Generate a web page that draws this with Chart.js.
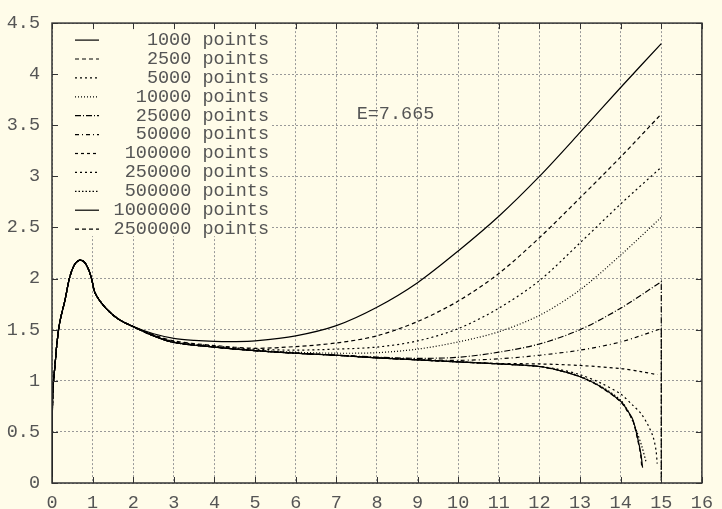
<!DOCTYPE html>
<html>
<head>
<meta charset="utf-8">
<script src="https://cdn.jsdelivr.net/npm/chart.js"></script>
<style>
  html, body { margin: 0; padding: 0; background: #fffce9; }
  canvas { display: block; }
</style>
</head>
<body>
<canvas id="myChart" width="722" height="509"></canvas>

<script>
    // number of points behind each curve (legend order)
    let npoints = [1000, 2500, 5000, 10000, 25000, 50000, 100000, 250000, 500000, 1000000, 2500000];

    // every run shares the same start, up to x = 2
    let head = [
        [0, 0], [0.005, 0.5], [0.02, 0.9], [0.05, 1.05], [0.08, 1.18], [0.12, 1.36],
        [0.19, 1.57], [0.32, 1.79], [0.44, 2.02], [0.56, 2.14], [0.68, 2.18], [0.8, 2.16],
        [0.91, 2.08], [0.98, 1.99], [1.04, 1.88], [1.1, 1.83], [1.2, 1.77], [1.4, 1.68],
        [1.65, 1.60], [2, 1.53]
    ];

    // the slowly falling middle part the large runs follow
    let base = [
        [2.5, 1.44], [3, 1.375], [4, 1.33], [5, 1.295], [6, 1.27], [7, 1.25],
        [8, 1.225], [9, 1.205], [10, 1.185], [11, 1.165], [12, 1.14]
    ];

    let t1000 = [[2.5, 1.46], [3, 1.415], [3.5, 1.395], [4, 1.385], [4.5, 1.383], [5, 1.39], [6, 1.44],
        [7, 1.54], [8, 1.72], [9, 1.96], [10, 2.27], [11, 2.61], [12, 3.0], [13, 3.43], [14, 3.87], [15, 4.30]];
    let t2500 = [[2.5, 1.45], [3, 1.39], [4, 1.345], [5, 1.318], [6, 1.335], [7, 1.37], [8, 1.44],
        [9, 1.58], [10, 1.78], [11, 2.05], [12, 2.40], [13, 2.79], [14, 3.19], [15, 3.61]];
    let t5000 = [[2.5, 1.445], [3, 1.385], [4, 1.34], [5, 1.31], [6, 1.30], [7, 1.31], [8, 1.33],
        [9, 1.39], [10, 1.51], [11, 1.71], [12, 1.98], [13, 2.35], [14, 2.73], [15, 3.09]];
    let t10000 = [[2.5, 1.44], [3, 1.38], [4, 1.335], [5, 1.30], [6, 1.28], [7, 1.27], [8, 1.275],
        [9, 1.31], [10, 1.38], [11, 1.48], [12, 1.64], [13, 1.89], [14, 2.23], [15, 2.60]];
    // these two fall straight to zero at x = 15 (corner point repeated)
    let t25000 = [[2.5, 1.44], [3, 1.375], [4, 1.33], [5, 1.295], [6, 1.27], [7, 1.25], [8, 1.232],
        [9, 1.22], [10, 1.23], [11, 1.28], [12, 1.36], [13, 1.50], [14, 1.71], [15, 1.97], [15, 1.97], [15, 0]];
    let t50000 = [[2.5, 1.44], [3, 1.375], [4, 1.33], [5, 1.295], [6, 1.27], [7, 1.25], [8, 1.225],
        [9, 1.21], [10, 1.20], [11, 1.215], [12, 1.25], [13, 1.30], [14, 1.38], [15, 1.51], [15, 1.51], [15, 0]];
    let t100000 = base.slice(0, 9).concat([[11, 1.17], [12, 1.165], [13, 1.15], [14, 1.12], [14.5, 1.09], [14.9, 1.06]]);
    let t250000 = base.concat([[12.5, 1.11], [13, 1.06], [13.5, 0.98], [14, 0.87], [14.3, 0.76], [14.5, 0.68],
        [14.67, 0.57], [14.8, 0.45], [14.87, 0.32], [14.9, 0.19]]);
    let t500000 = base.concat([[12.5, 1.10], [13, 1.045], [13.5, 0.95], [14, 0.81], [14.2, 0.69], [14.39, 0.51],
        [14.52, 0.36], [14.63, 0.2]]);
    let t1000000 = base.concat([[12.5, 1.10], [13, 1.04], [13.5, 0.945], [14, 0.80], [14.15, 0.72], [14.3, 0.62],
        [14.43, 0.42], [14.5, 0.28], [14.54, 0.15]]);
    let t2500000 = base.concat([[12.5, 1.10], [13, 1.04], [13.5, 0.94], [14, 0.795], [14.15, 0.71], [14.3, 0.61],
        [14.42, 0.42], [14.49, 0.28], [14.52, 0.15]]);

    let tails = [t1000, t2500, t5000, t10000, t25000, t50000, t100000, t250000, t500000, t1000000, t2500000];

    let note = 'E=7.665';
    let noteAt = [7.5, 3.61];

    // gnuplot-like line types, one per curve
    const dashes = [[], [4, 3], [2, 3], [1, 2], [6, 2, 1, 2], [4, 3, 1, 3], [3, 3], [2, 3], [1.5, 2], [], [4, 3]];

    const bg = '#fffce9';
    const ink = '#555';
    const font = { family: '"Liberation Mono", monospace', size: 18.5 };
    const fontCss = '18.5px "Liberation Mono", monospace';

    let datasets = npoints.map((n, i) => ({
        label: String(n).padStart(7, ' ') + ' points',
        data: head.concat(tails[i]).map(p => ({ x: p[0], y: p[1] })),
        borderColor: '#000',
        borderWidth: 1.2,
        borderDash: dashes[i],
        pointRadius: 0,
        fill: false,
        tension: 0.3
    }));

    // paper colour, key box, note, frame and inward tick marks
    const gnuplotLook = {
        id: 'gnuplotLook',
        beforeDraw(chart) {
            const c = chart.ctx;
            c.save();
            c.fillStyle = bg;
            c.fillRect(0, 0, chart.width, chart.height);
            c.restore();
        },
        beforeDatasetsDraw(chart) {
            const { ctx: c, chartArea: a } = chart;
            c.save();
            c.fillStyle = bg;
            c.fillRect(a.left + 1, a.top + 1, 218, 212);
            c.font = fontCss;
            c.textAlign = 'right';
            c.textBaseline = 'middle';
            chart.data.datasets.forEach((ds, i) => {
                const y = a.top + 17 + i * 18.9;
                c.strokeStyle = '#000';
                c.lineWidth = 1.2;
                c.setLineDash(ds.borderDash);
                c.beginPath();
                c.moveTo(a.left + 23, y);
                c.lineTo(a.left + 47, y);
                c.stroke();
                c.setLineDash([]);
                c.fillStyle = ink;
                c.fillText(ds.label, a.left + 217, y);
            });
            const xs = chart.scales.x, ys = chart.scales.y;
            c.textAlign = 'left';
            c.fillText(note, xs.getPixelForValue(noteAt[0]), ys.getPixelForValue(noteAt[1]));
            c.restore();
        },
        afterDatasetsDraw(chart) {
            const { ctx: c, chartArea: a } = chart;
            const xs = chart.scales.x, ys = chart.scales.y;
            c.save();
            c.strokeStyle = '#333';
            c.lineWidth = 1;
            c.beginPath();
            xs.ticks.forEach(t => {
                const px = Math.round(xs.getPixelForValue(t.value)) + 0.5;
                c.moveTo(px, a.bottom); c.lineTo(px, a.bottom - 6);
                c.moveTo(px, a.top); c.lineTo(px, a.top + 6);
            });
            ys.ticks.forEach(t => {
                const py = Math.round(ys.getPixelForValue(t.value)) + 0.5;
                c.moveTo(a.left, py); c.lineTo(a.left + 6, py);
                c.moveTo(a.right, py); c.lineTo(a.right - 6, py);
            });
            c.stroke();
            c.lineWidth = 1.5;
            c.strokeRect(a.left, a.top, a.right - a.left, a.bottom - a.top);
            c.restore();
        }
    };

    var ctx = document.getElementById('myChart').getContext('2d');

    var myChart = new Chart(ctx, {
        type: 'line',
        data: { datasets: datasets },
        plugins: [gnuplotLook],
        options: {
            responsive: false,
            animation: false,
            layout: { padding: { top: 15, right: 12, left: 0, bottom: 0 } },
            plugins: { legend: { display: false }, tooltip: { enabled: false } },
            scales: {
                x: {
                    type: 'linear',
                    min: 0,
                    max: 16,
                    ticks: { stepSize: 1, autoSkip: false, maxRotation: 0, color: ink, font: font, padding: 9,
                        callback: v => String(v) },
                    grid: { color: '#999', drawTicks: false },
                    border: { display: false, dash: [2, 2] },
                    afterFit: s => { s.height = 26; }
                },
                y: {
                    min: 0,
                    max: 4.5,
                    ticks: { stepSize: 0.5, color: ink, font: font, padding: 12,
                        callback: v => String(v) },
                    grid: { color: '#999', drawTicks: false },
                    border: { display: false, dash: [2, 2] },
                    afterFit: s => { s.width = 52; }
                }
            }
        }
    });
</script>
</body>
</html>
